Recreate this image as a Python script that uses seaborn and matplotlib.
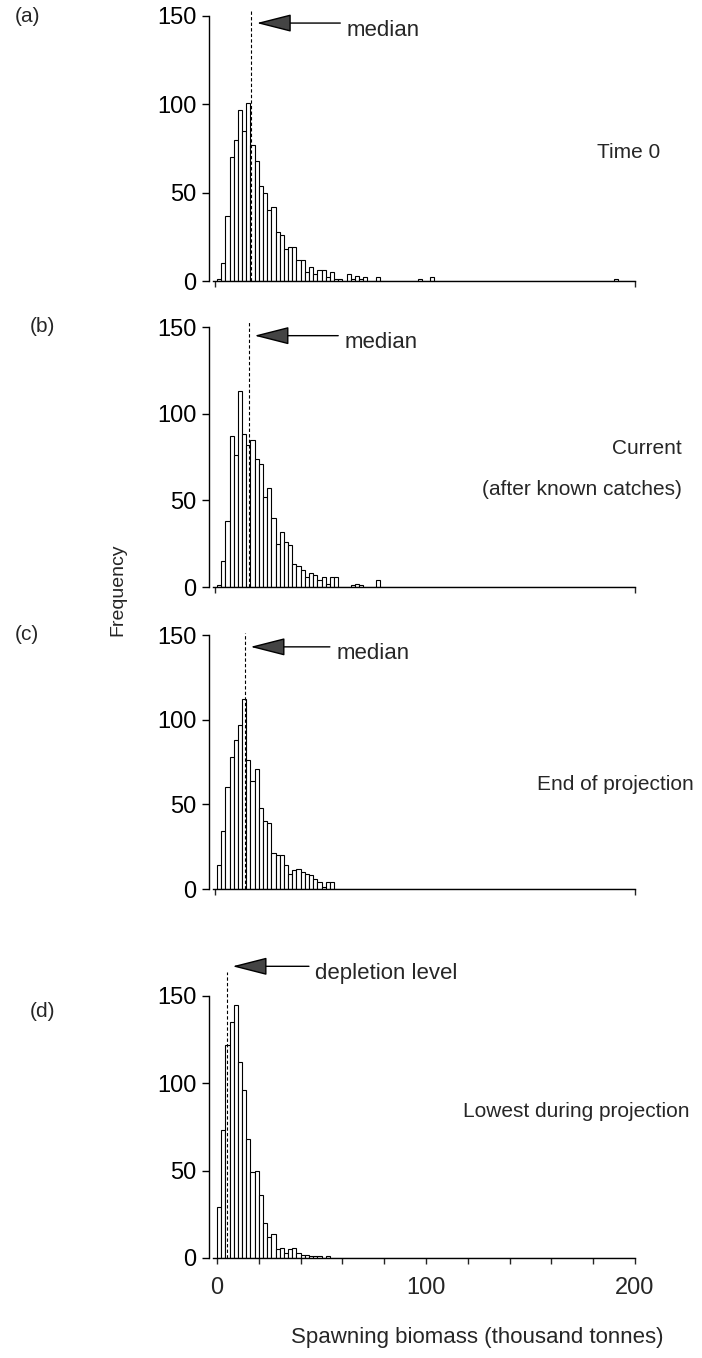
import numpy as np
import pandas as pd
import matplotlib
matplotlib.use("Agg")
import matplotlib.pyplot as plt
import seaborn as sns

sns.set_theme(style="ticks")
plt.rcParams['font.family'] = ['Liberation Sans', 'DejaVu Sans']

# ---------------- data (bin width 2 thousand tonnes, bins start at 0) -------------
BIN_WIDTH = 2
counts_a = [1, 10, 37, 70, 80, 97, 85, 101, 77, 68, 54, 50, 40, 42, 28, 26, 18, 19, 19, 12,
            12, 5, 8, 4, 6, 6, 2, 5, 1, 1, 0, 4, 1, 3, 1, 2, 0, 0, 2, 0,
            0, 0, 0, 0, 0, 0, 0, 0, 1, 0, 0, 2, 0, 0, 0, 0, 0, 0, 0, 0,
            0, 0, 0, 0, 0, 0, 0, 0, 0, 0, 0, 0, 0, 0, 0, 0, 0, 0, 0, 0,
            0, 0, 0, 0, 0, 0, 0, 0, 0, 0, 0, 0, 0, 0, 0, 1, 0, 0, 0, 0]
counts_b = [1, 15, 38, 87, 76, 113, 88, 82, 85, 74, 71, 52, 57, 40, 25, 32, 26, 24, 13, 12,
            10, 6, 8, 7, 4, 6, 2, 6, 6, 0, 0, 0, 1, 2, 1, 0, 0, 0, 4, 0,
            0, 0, 0, 0, 0, 0, 0, 0, 0, 0, 0, 0, 0, 0, 0, 0, 0, 0, 0, 0,
            0, 0, 0, 0, 0, 0, 0, 0, 0, 0, 0, 0, 0, 0, 0, 0, 0, 0, 0, 0,
            0, 0, 0, 0, 0, 0, 0, 0, 0, 0, 0, 0, 0, 0, 0, 0, 0, 0, 0, 0]
counts_c = [14, 34, 60, 78, 88, 97, 112, 76, 64, 71, 48, 40, 39, 21, 20, 20, 14, 9, 11, 12,
            10, 9, 8, 6, 4, 1, 4, 4, 0, 0, 0, 0, 0, 0, 0, 0, 0, 0, 0, 0,
            0, 0, 0, 0, 0, 0, 0, 0, 0, 0, 0, 0, 0, 0, 0, 0, 0, 0, 0, 0,
            0, 0, 0, 0, 0, 0, 0, 0, 0, 0, 0, 0, 0, 0, 0, 0, 0, 0, 0, 0,
            0, 0, 0, 0, 0, 0, 0, 0, 0, 0, 0, 0, 0, 0, 0, 0, 0, 0, 0, 0]
counts_d = [29, 73, 122, 135, 145, 112, 96, 68, 49, 50, 36, 20, 12, 14, 5, 6, 3, 5, 6, 3,
            2, 2, 1, 1, 1, 0, 1, 0, 0, 0, 0, 0, 0, 0, 0, 0, 0, 0, 0, 0,
            0, 0, 0, 0, 0, 0, 0, 0, 0, 0, 0, 0, 0, 0, 0, 0, 0, 0, 0, 0,
            0, 0, 0, 0, 0, 0, 0, 0, 0, 0, 0, 0, 0, 0, 0, 0, 0, 0, 0, 0,
            0, 0, 0, 0, 0, 0, 0, 0, 0, 0, 0, 0, 0, 0, 0, 0, 0, 0, 0, 0]
panel_letters = ["(a)", "(b)", "(c)", "(d)"]
marker_values = [16.4, 15.3, 13.4, 4.8]          # median / depletion level
marker_labels = ["median", "median", "median", "depletion level"]
panel_notes = [["Time 0"], ["Current", "(after known catches)"],
               ["End of projection"], ["Lowest during projection"]]
y_ticks = [0, 50, 100, 150]
x_ticks_d = [0, 100, 200]
x_label = "Spawning biomass (thousand tonnes)"
y_label = "Frequency"

# ---------------- layout (pixels) ----------------
W, H = 702, 1358
fig = plt.figure(figsize=(W / 100, H / 100), dpi=100)
fig.patch.set_facecolor("white")

px_per_unit = 2.09
x0_px = 217
ax_left_px, ax_right_px = 209, 637
xlim = ((ax_left_px - x0_px) / px_per_unit, 200 + (ax_right_px - 635) / px_per_unit)

# (top px of 150, bottom px of 0)
boxes = [(16, 281), (327, 587), (635, 889), (996, 1258)]
arrow_y = [146, 145, 143, 167]
arrow_tail = [59, 58, 54, 44]
note_y = [[73], [80, 56], [62], [84]]
note_x = [212, 222.5, 228, 226]
letter_x_px = [15, 30, 15, 30]
letter_y = [150, 150, 150, 141]

all_counts = [counts_a, counts_b, counts_c, counts_d]
FS = 15
TICK_FS = 17

for i, counts in enumerate(all_counts):
    top, bot = boxes[i]
    ax = fig.add_axes([ax_left_px / W, 1 - bot / H,
                       (ax_right_px - ax_left_px) / W, (bot - top) / H])
    counts = np.asarray(counts, dtype=float)
    left_edges = np.arange(len(counts)) * BIN_WIDTH
    df = pd.DataFrame({"biomass": left_edges + BIN_WIDTH / 2, "n": counts})
    sns.histplot(data=df, x="biomass", weights="n", binwidth=BIN_WIDTH,
                 binrange=(0, len(counts) * BIN_WIDTH), ax=ax,
                 color="white", edgecolor="black", linewidth=0.8, alpha=1)
    ax.set_xlim(*xlim)
    ax.set_ylim(0, 150)
    ax.set_xlabel("")
    ax.set_ylabel("")
    sns.despine(ax=ax)
    ax.spines["left"].set_bounds(0, 150)
    ax.spines["bottom"].set_bounds(-2, 200)
    for s in ("left", "bottom"):
        ax.spines[s].set_linewidth(1.0)
        ax.spines[s].set_color("black")
    ax.set_yticks(y_ticks)
    ax.set_yticklabels([str(t) for t in y_ticks], fontsize=TICK_FS)
    ax.tick_params(axis="y", direction="out", length=5, width=1, pad=4, colors="black")
    if i < 3:
        ax.set_xticks([-1, 200])
        ax.set_xticklabels([])
        ax.tick_params(axis="x", direction="out", length=4, width=1)
    else:
        ax.set_xticks(x_ticks_d)
        ax.set_xticklabels([str(t) for t in x_ticks_d], fontsize=TICK_FS)
        ax.set_xticks(np.arange(0, 201, 20), minor=True)
        ax.tick_params(axis="x", which="both", direction="out", length=4, width=1, pad=10)
    ax.set_facecolor("white")

    m = marker_values[i]
    ax.vlines(m, 0, arrow_y[i] + 8 if i < 3 else arrow_y[i] - 3, colors="black",
              linestyles=(0, (3, 2)), linewidth=0.8, clip_on=False)
    ax.annotate("", xy=(m + 2.6, arrow_y[i]), xytext=(arrow_tail[i], arrow_y[i]),
                arrowprops=dict(arrowstyle="-|>,head_length=1.1,head_width=0.28",
                                mutation_scale=20, lw=1.0, color="black", fc="#444444",
                                shrinkA=0, shrinkB=0),
                annotation_clip=False)
    ax.text(arrow_tail[i] + 3, arrow_y[i] - 4, marker_labels[i], fontsize=FS + 1,
            ha="left", va="center", clip_on=False)
    for txt, yy in zip(panel_notes[i], note_y[i]):
        ax.text(note_x[i], yy, txt, fontsize=FS, ha="right", va="center", clip_on=False)
    # panel letter
    y_px = bot - letter_y[i] / 150 * (bot - top)
    fig.text(letter_x_px[i] / W, 1 - y_px / H, panel_letters[i], fontsize=FS,
             ha="left", va="center")

fig.text(118 / W, 1 - 590 / H, y_label, rotation=90, fontsize=FS - 1, ha="center", va="center")
fig.text(477 / W, 1 - 1338 / H, x_label, fontsize=FS + 1, ha="center", va="center")

fig.savefig("out.png", dpi=100, facecolor="white")
